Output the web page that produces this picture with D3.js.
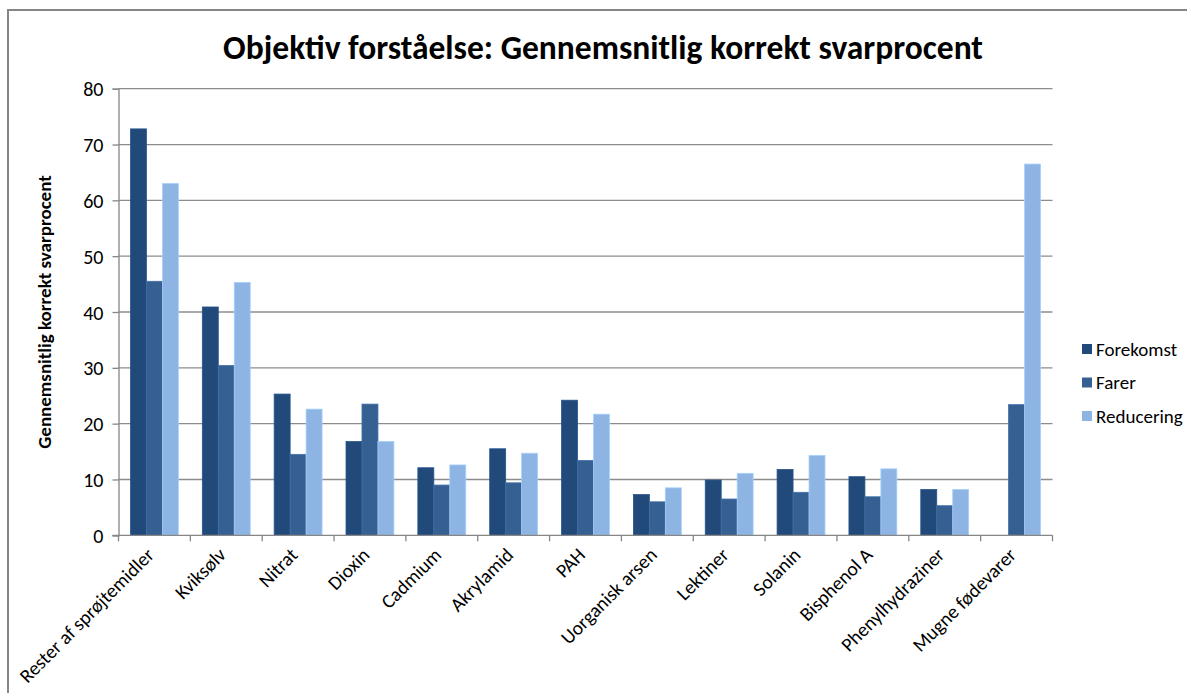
<!DOCTYPE html>
<head>
  <meta charset="utf-8">
  <title>Objektiv forståelse</title>
  <script src="https://d3js.org/d3.v7.min.js"></script>
  <style>
    body { margin: 0; background: #fff; }
    text { font-family: Carlito, Calibri, Lato, "Open Sans", sans-serif; fill: #000; }
    .grid line { stroke: #8c8c8c; stroke-width: 1.3; }
  </style>
</head>
<body>
<div class="container"></div>
<script>
'use strict';
var width = 1187;
var height = 693;

var categories = ['Rester af sprøjtemidler', 'Kviksølv', 'Nitrat', 'Dioxin', 'Cadmium',
  'Akrylamid', 'PAH', 'Uorganisk arsen', 'Lektiner', 'Solanin', 'Bisphenol A',
  'Phenylhydraziner', 'Mugne fødevarer'];
var seriesNames = ['Forekomst', 'Farer', 'Reducering'];
var forekomst = [72.8, 40.9, 25.3, 16.8, 12.1, 15.5, 24.2, 7.3, 9.9, 11.8, 10.5, 8.2, 0];
var farer = [45.5, 30.4, 14.5, 23.5, 9.0, 9.4, 13.4, 6.0, 6.5, 7.7, 6.9, 5.3, 23.4];
var reducering = [63.0, 45.3, 22.6, 16.8, 12.6, 14.7, 21.7, 8.5, 11.1, 14.3, 11.9, 8.2, 66.5];
var yTicks = [0, 10, 20, 30, 40, 50, 60, 70, 80];
var colors = ['#214a7b', '#366092', '#8eb4e3'];

var values = [forekomst, farer, reducering];

var margin = { left: 118.5, right: 1052.5, top: 88.7, bottom: 535.3 };

var svg = d3.select('.container')
  .append('svg')
  .attr('width', width)
  .attr('height', height);

// chart frame
svg.append('rect')
  .attr('x', 8).attr('y', 10)
  .attr('width', width).attr('height', height)
  .attr('fill', 'none')
  .attr('stroke', '#868686')
  .attr('stroke-width', 2);

var x0 = d3.scaleBand()
  .domain(categories)
  .range([margin.left, margin.right]);

var bw = x0.bandwidth();
var x1 = d3.scaleBand()
  .domain(seriesNames)
  .range([bw * 0.75 / 4.5, bw * 3.75 / 4.5]);

var y = d3.scaleLinear()
  .domain([0, 80])
  .range([margin.bottom, margin.top]);

// gridlines
svg.append('g')
  .attr('class', 'grid')
  .selectAll('line')
  .data(yTicks.slice(1))
  .enter().append('line')
  .attr('x1', margin.left).attr('x2', margin.right)
  .attr('y1', function (d) { return y(d); })
  .attr('y2', function (d) { return y(d); });

// bars
categories.forEach(function (c, i) {
  var g = svg.append('g').attr('transform', 'translate(' + x0(c) + ',0)');
  seriesNames.forEach(function (s, j) {
    var v = values[j][i];
    if (!v) return;
    g.append('rect')
      .attr('x', x1(s))
      .attr('y', y(v))
      .attr('width', x1.bandwidth())
      .attr('height', y(0) - y(v))
      .attr('fill', colors[j])
      .attr('stroke', d3.color(colors[j]).brighter(0.4))
      .attr('stroke-width', 0.8);
  });
});

// y axis
var yAxis = svg.append('g')
  .attr('transform', 'translate(' + margin.left + ',0)')
  .call(d3.axisLeft(y).tickValues(yTicks).tickSize(6).tickPadding(9));
yAxis.selectAll('line, path').attr('stroke', '#868686').attr('stroke-width', 1.3);
yAxis.selectAll('text').style('font-size', '20px').attr('dy', '0.35em');

// x axis: ticks at category boundaries
var xAxis = svg.append('g');
xAxis.append('line')
  .attr('x1', margin.left - 6).attr('x2', margin.right)
  .attr('y1', y(0)).attr('y2', y(0))
  .attr('stroke', '#868686').attr('stroke-width', 1.3);
xAxis.selectAll('line.tick')
  .data(categories.map(function (c) { return x0(c); }).concat([margin.right]))
  .enter().append('line')
  .attr('class', 'tick')
  .attr('x1', function (d) { return d; }).attr('x2', function (d) { return d; })
  .attr('y1', y(0)).attr('y2', y(0) + 6)
  .attr('stroke', '#868686').attr('stroke-width', 1.3);

xAxis.selectAll('text')
  .data(categories)
  .enter().append('text')
  .attr('transform', function (d) {
    return 'translate(' + (x0(d) + bw / 2 - 4) + ',' + (y(0) + 16) + ') rotate(-45)';
  })
  .attr('text-anchor', 'end')
  .attr('dy', '0.35em')
  .style('font-size', '19.5px')
  .text(function (d) { return d; });

// title
svg.append('text')
  .attr('x', 603).attr('y', 59)
  .attr('text-anchor', 'middle')
  .style('font-size', '33.5px')
  .style('font-weight', 'bold')
  .text('Objektiv forståelse: Gennemsnitlig korrekt svarprocent');

// y axis title
svg.append('text')
  .attr('transform', 'translate(51,' + ((margin.top + margin.bottom) / 2) + ') rotate(-90)')
  .attr('text-anchor', 'middle')
  .style('font-size', '19px')
  .style('font-weight', 'bold')
  .text('Gennemsnitlig korrekt svarprocent');

// legend
var legend = svg.append('g').attr('transform', 'translate(1082,349)');
seriesNames.forEach(function (s, j) {
  var row = legend.append('g').attr('transform', 'translate(0,' + j * 33.5 + ')');
  row.append('rect')
    .attr('x', 0).attr('y', -5)
    .attr('width', 10).attr('height', 10)
    .attr('fill', colors[j]);
  row.append('text')
    .attr('x', 14).attr('y', 0)
    .attr('dy', '0.35em')
    .style('font-size', '19px')
    .text(s);
});
</script>
</body>
